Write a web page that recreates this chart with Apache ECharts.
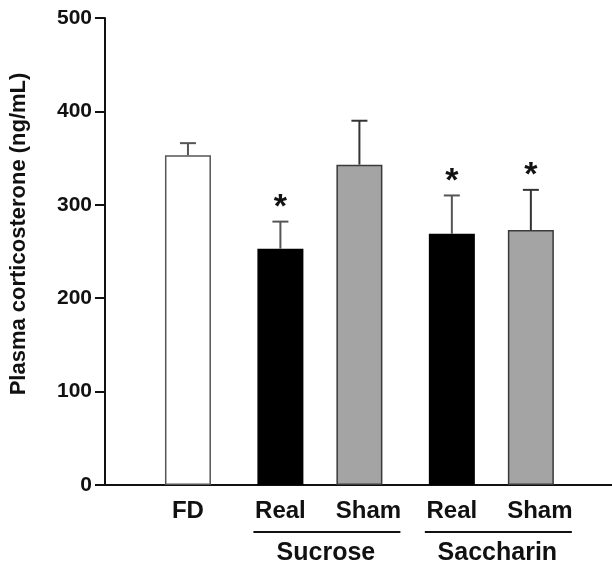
<!DOCTYPE html>
<html>
<head>
<meta charset="utf-8">
<script src="https://cdn.jsdelivr.net/npm/echarts@6/dist/echarts.min.js"></script>
<style>html,body{margin:0;padding:0;background:#fff}#c{width:612px;height:570px}</style>
</head>
<body>
<div id="c"></div>
<script>
// ---- data ----
const categories = ['FD', 'Real', 'Sham', 'Real', 'Sham'];
const groups = ['', 'Sucrose', 'Sucrose', 'Saccharin', 'Saccharin'];
const means = [353, 253, 343, 269, 273];
const sem = [13, 29, 47, 41, 43];
const sig = [false, true, false, true, true];
const yTicks = [0, 100, 200, 300, 400, 500];
const yTitle = 'Plasma corticosterone (ng/mL)';

// ---- layout / style ----
const FONT = "'Liberation Sans', Arial, sans-serif";
const GROUP_GAP = 0.17;
const positions = [];
(function () {
  let g = 0;
  for (let i = 0; i < categories.length; i++) {
    if (i > 0 && groups[i] !== groups[i - 1]) g++;
    positions.push(i + g * GROUP_GAP);
  }
})();
const styles = {
  FD: { color: '#ffffff', borderColor: '#555555', whisker: '#555555', labelShift: 0 },
  Real: { color: '#000000', borderColor: '#000000', whisker: '#555555', labelShift: 0 },
  Sham: { color: '#a4a4a4', borderColor: '#3a3a3a', whisker: '#333333', labelShift: 18 }
};

const chart = echarts.init(document.getElementById('c'), null, { renderer: 'canvas' });

const option = {
  animation: false,
  backgroundColor: '#ffffff',
  grid: { left: 105, right: 0, top: 18, bottom: 85, containLabel: false },
  xAxis: {
    type: 'value',
    min: -1.05,
    max: 5.367,
    splitLine: { show: false },
    axisTick: { show: false },
    axisLine: { show: true, onZero: false, lineStyle: { color: '#111', width: 2 } },
    axisLabel: {
      customValues: positions,
      margin: 14,
      color: '#111',
      fontFamily: FONT,
      fontWeight: 'bold',
      fontSize: 24,
      rich: {
        sh: { padding: [0, 0, 0, 18], color: '#111', fontFamily: FONT, fontWeight: 'bold', fontSize: 24 }
      },
      formatter: function (v) {
        const idx = positions.findIndex(p => Math.abs(p - v) < 1e-6);
        if (idx < 0) return '';
        const name = categories[idx];
        return styles[name].labelShift ? '{sh|' + name + '}' : name;
      }
    }
  },
  yAxis: {
    type: 'value',
    min: yTicks[0],
    max: yTicks[yTicks.length - 1],
    interval: yTicks[1] - yTicks[0],
    splitLine: { show: false },
    axisLine: { show: true, onZero: false, lineStyle: { color: '#111', width: 2 } },
    axisTick: { show: true, length: 10, lineStyle: { color: '#111', width: 2 } },
    axisLabel: {
      margin: 13,
      color: '#111',
      fontFamily: FONT,
      fontWeight: 'bold',
      fontSize: 21
    }
  },
  series: [
    {
      type: 'bar',
      barWidth: 46,
      data: positions.map((p, i) => ({
        value: [p, means[i]],
        itemStyle: {
          color: styles[categories[i]].color,
          borderColor: styles[categories[i]].borderColor,
          borderWidth: 1.5
        }
      })),
      z: 2
    },
    {
      type: 'custom',
      z: 3,
      data: positions.map((p, i) => [p, means[i], i, sem[i], sig[i] ? 1 : 0]),
      renderItem: function (params, api) {
        const x = api.value(0), m = api.value(1), idx = api.value(2), e = api.value(3), s = api.value(4);
        const top = api.coord([x, m]);
        const cap = api.coord([x, m + e]);
        const col = styles[categories[idx]].whisker;
        const children = [
          { type: 'line', shape: { x1: top[0], y1: top[1], x2: cap[0], y2: cap[1] }, style: { stroke: col, lineWidth: 2 } },
          { type: 'line', shape: { x1: cap[0] - 8, y1: cap[1], x2: cap[0] + 8, y2: cap[1] }, style: { stroke: col, lineWidth: 2 } }
        ];
        if (s) {
          children.push({
            type: 'text',
            x: cap[0], y: cap[1] - 14,
            style: { text: '*', fill: '#111', font: 'bold 34px ' + FONT, align: 'center', verticalAlign: 'middle' }
          });
        }
        return { type: 'group', children: children };
      }
    }
  ]
};
chart.setOption(option);

// group underlines and labels
const groupNames = [];
groups.forEach(g => { if (g && groupNames.indexOf(g) < 0) groupNames.push(g); });
const graphics = [{
  type: 'text',
  x: 19, y: 234,
  rotation: Math.PI / 2,
  style: { text: yTitle, fill: '#111', font: 'bold 22px ' + FONT, align: 'center', verticalAlign: 'middle' }
}];
groupNames.forEach(g => {
  const idxs = groups.map((v, i) => v === g ? i : -1).filter(i => i >= 0);
  const x1 = chart.convertToPixel({ gridIndex: 0 }, [positions[idxs[0]], 0])[0] - 27;
  const x2 = chart.convertToPixel({ gridIndex: 0 }, [positions[idxs[idxs.length - 1]], 0])[0] + 41;
  graphics.push({ type: 'line', shape: { x1: x1, y1: 532, x2: x2, y2: 532 }, style: { stroke: '#111', lineWidth: 2 } });
  graphics.push({
    type: 'text', x: (x1 + x2) / 2 - 1, y: 553,
    style: { text: g, fill: '#111', font: 'bold 25px ' + FONT, align: 'center', verticalAlign: 'middle' }
  });
});
chart.setOption({ graphic: graphics });
</script>
</body>
</html>
